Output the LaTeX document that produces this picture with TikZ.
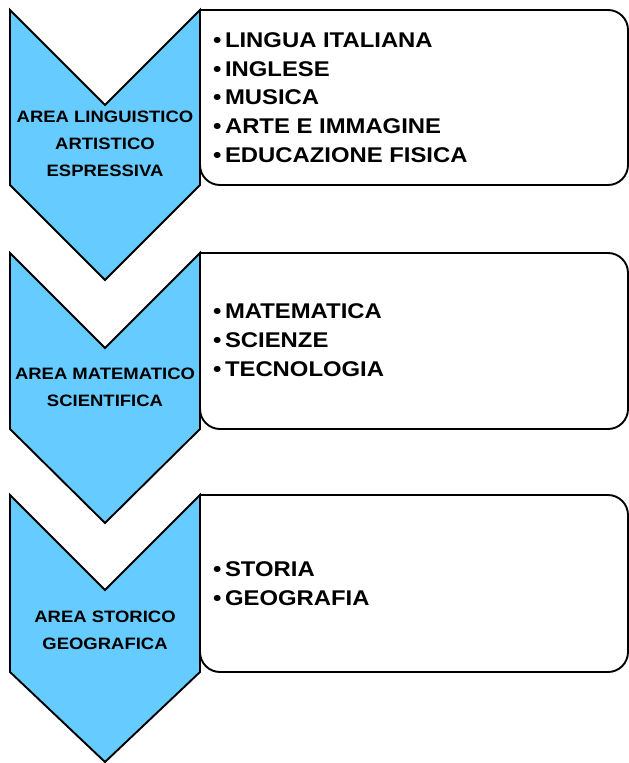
\documentclass[tikz,border=0pt]{standalone}
\usepackage{fontspec}
\setmainfont{Liberation Sans}[FakeStretch=1.12]
\usepackage{tikz}
\usepackage{xcolor}
\definecolor{areablue}{RGB}{102,204,255}

\begin{document}
\begin{tikzpicture}[x=1pt,y=-1pt]
        \tikzstyle{every node}=[inner sep=0pt]
        \tikzstyle{chev}=[draw,line width=1.9pt,fill=areablue,line join=miter]
        \tikzstyle{subj}=[draw,line width=1.9pt,fill=white]
        \tikzstyle{area}=[align=center,font=\bfseries\fontsize{16.5}{27}\selectfont]
        \tikzstyle{list}=[align=left,anchor=west,font=\bfseries\fontsize{21.3}{28.7}\selectfont]
        \useasboundingbox (0,0) rectangle (629,763);

        % linguistico
        \draw[subj] (200,10) [rounded corners=20pt] -- (628,10) -- (628,185) -- (200,185) [sharp corners] -- cycle;
        \draw[chev] (10,10) -- (105,105) -- (200,10) -- (200,185) -- (105,280) -- (10,185) -- cycle;
        \node[area] (a1) at (105,144) {AREA LINGUISTICO\\ARTISTICO\\ESPRESSIVA};
        \node[list] (s1) at (213,97.5) {\textbullet\hspace{3.5pt}LINGUA ITALIANA\\\textbullet\hspace{3.5pt}INGLESE\\\textbullet\hspace{3.5pt}MUSICA\\\textbullet\hspace{3.5pt}ARTE E IMMAGINE\\\textbullet\hspace{3.5pt}EDUCAZIONE FISICA};

        % matematico
        \draw[subj] (200,253) [rounded corners=20pt] -- (628,253) -- (628,429) -- (200,429) [sharp corners] -- cycle;
        \draw[chev] (10,253) -- (105,348) -- (200,253) -- (200,429) -- (105,523) -- (10,429) -- cycle;
        \node[area] (a2) at (105,387.5) {AREA MATEMATICO\\SCIENTIFICA};
        \node[list] (s2) at (213,340) {\textbullet\hspace{3.5pt}MATEMATICA\\\textbullet\hspace{3.5pt}SCIENZE\\\textbullet\hspace{3.5pt}TECNOLOGIA};

        % storico
        \draw[subj] (200,495) [rounded corners=20pt] -- (628,495) -- (628,672) -- (200,672) [sharp corners] -- cycle;
        \draw[chev] (10,495) -- (105,590) -- (200,495) -- (200,672) -- (105,762) -- (10,672) -- cycle;
        \node[area] (a3) at (105,630.5) {AREA STORICO\\GEOGRAFICA};
        \node[list] (s3) at (213,583.5) {\textbullet\hspace{3.5pt}STORIA\\\textbullet\hspace{3.5pt}GEOGRAFIA};
    \end{tikzpicture}
\end{document}
